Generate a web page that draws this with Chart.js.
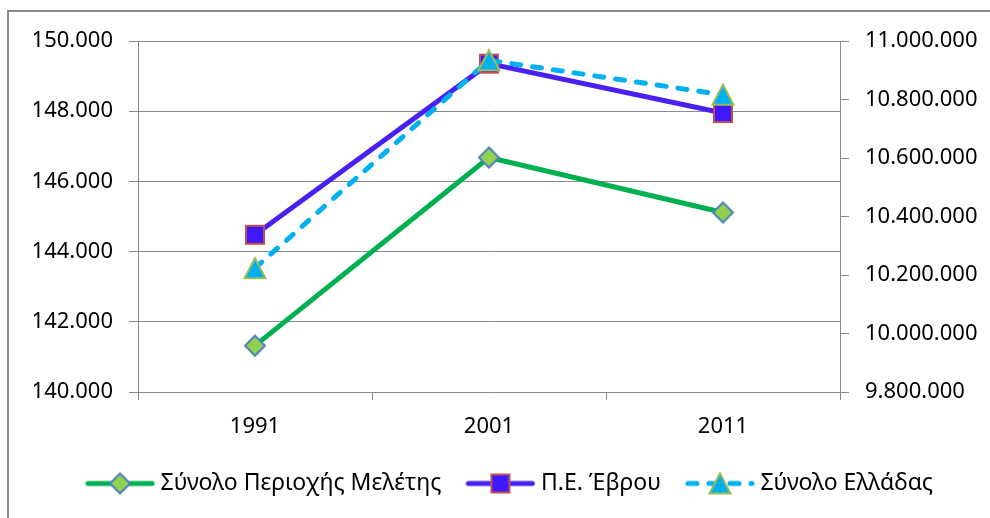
<!DOCTYPE html>
<html lang="el">
<head>
<meta charset="utf-8">
<title>Πληθυσμός 1991 - 2011</title>
<script src="https://cdn.jsdelivr.net/npm/chart.js@4.4.1/dist/chart.umd.min.js"></script>
<style>
  html, body { margin: 0; padding: 0; background: #fff; }
  body { width: 990px; height: 518px; overflow: hidden; position: relative; }
  .plaisio {
    position: absolute; left: 7px; top: 10px; width: 1000px; height: 530px;
    border: 2px solid #8a8a8a; box-sizing: border-box;
  }
  #wrap { position: absolute; left: 0; top: 0; width: 990px; height: 518px; }
</style>
</head>
<body>
<div class="plaisio"></div>
<div id="wrap"><canvas id="chartPlithysmos" width="990" height="518"></canvas></div>
<script>
// Απογραφές
const ETI = ["1991", "2001", "2011"];

// Αριστερός άξονας
const SYNOLO_PERIOXIS = [141320, 146680, 145115];
const PE_EVROU = [144480, 149354, 147947];

// Δεξιός άξονας
const SYNOLO_ELLADAS = [10223392, 10934097, 10816286];

const ONOMATA = ["Σύνολο Περιοχής Μελέτης", "Π.Ε. Έβρου", "Σύνολο Ελλάδας"];

const ARISTEROS_AXONAS = [140000, 150000, 2000]; // min, max, βήμα
const DEXIOS_AXONAS = [9800000, 11000000, 200000];

const GRAMMI = "#8a8a8a";
const FONT = { family: "'Noto Sans', 'DejaVu Sans', sans-serif", size: 22 };
const FONT_LEGEND = { family: "'Noto Sans', 'DejaVu Sans', sans-serif", size: 23 };

function teleies(v) {
  return String(v).replace(/\B(?=(\d{3})+(?!\d))/g, ".");
}

// Δείκτες σαν μικρά canvas
function deiktis(sxima, gemisma, perigramma) {
  const c = document.createElement("canvas");
  c.width = 26;
  c.height = 26;
  const g = c.getContext("2d");
  g.fillStyle = gemisma;
  g.strokeStyle = perigramma;
  g.lineWidth = 2;
  g.beginPath();
  if (sxima === "rect") {
    g.rect(4, 4, 18, 18);
  } else if (sxima === "diamond") {
    g.moveTo(13, 3);
    g.lineTo(23, 13);
    g.lineTo(13, 23);
    g.lineTo(3, 13);
    g.closePath();
  } else {
    g.moveTo(13, 3);
    g.lineTo(23.5, 23);
    g.lineTo(2.5, 23);
    g.closePath();
  }
  g.fill();
  g.stroke();
  return c;
}

// Δείγμα υπομνήματος: γραμμή + δείκτης
function deigma(xroma, dash, marker) {
  const c = document.createElement("canvas");
  c.width = 70;
  c.height = 26;
  const g = c.getContext("2d");
  g.strokeStyle = xroma;
  g.lineWidth = 5;
  g.lineCap = "round";
  g.setLineDash(dash);
  g.beginPath();
  g.moveTo(3, 13);
  g.lineTo(67, 13);
  g.stroke();
  g.drawImage(marker, 22, 0);
  return c;
}

const XROMATA = ["#00b050", "#4a1ff2", "#00b0f0"];
const DASHES = [[], [], [9, 12]];
const DEIKTES = [
  deiktis("diamond", "#92d050", "#4f81bd"),
  deiktis("rect", "#4018ff", "#c0504d"),
  deiktis("triangle", "#00b0f0", "#9bbb59"),
];
const DEIGMATA = DEIKTES.map((m, i) => deigma(XROMATA[i], DASHES[i], m));

document.addEventListener("DOMContentLoaded", () => {
  const ctx = document.getElementById("chartPlithysmos").getContext("2d");

  const timesEtos = [SYNOLO_PERIOXIS, PE_EVROU, SYNOLO_ELLADAS];
  const datasets = timesEtos.map((data, i) => ({
    label: ONOMATA[i],
    data,
    yAxisID: i === 2 ? "y1" : "y",
    borderColor: XROMATA[i],
    borderWidth: 5,
    borderDash: DASHES[i],
    borderCapStyle: "round",
    tension: 0,
    pointStyle: DEIKTES[i],
    pointRadius: 10,
    pointHoverRadius: 10,
    order: 3 - i,
  }));

  new Chart(ctx, {
    type: "line",
    data: { labels: ETI, datasets },
    options: {
      responsive: false,
      animation: false,
      layout: { padding: { top: 41, left: 34, right: 0, bottom: 13 } },
      plugins: {
        tooltip: { enabled: false },
        legend: {
          display: true,
          position: "bottom",
          labels: {
            usePointStyle: true,
            pointStyleWidth: 58,
            padding: 30,
            color: "#000",
            font: FONT_LEGEND,
            generateLabels: (chart) =>
              chart.data.datasets.map((ds, i) => ({
                text: ds.label,
                pointStyle: DEIGMATA[i],
                fillStyle: XROMATA[i],
                strokeStyle: XROMATA[i],
                lineWidth: 0,
                hidden: false,
                datasetIndex: i,
              })),
          },
        },
      },
      scales: {
        x: {
          offset: true,
          grid: {
            offset: true,
            drawOnChartArea: false,
            tickLength: 8,
            color: GRAMMI,
          },
          border: { color: GRAMMI },
          ticks: { color: "#000", font: FONT, padding: 14 },
          afterFit: (s) => { s.height = 50; },
        },
        y: {
          position: "left",
          min: ARISTEROS_AXONAS[0],
          max: ARISTEROS_AXONAS[1],
          ticks: {
            stepSize: ARISTEROS_AXONAS[2],
            color: "#000",
            font: FONT,
            padding: 16,
            callback: (v) => teleies(v),
          },
          grid: { color: GRAMMI, tickLength: 9 },
          border: { color: GRAMMI },
          afterFit: (s) => { s.width = 138 - 34; },
        },
        y1: {
          position: "right",
          min: DEXIOS_AXONAS[0],
          max: DEXIOS_AXONAS[1],
          ticks: {
            stepSize: DEXIOS_AXONAS[2],
            color: "#000",
            font: FONT,
            padding: 16,
            callback: (v) => teleies(v),
          },
          grid: { drawOnChartArea: false, color: GRAMMI, tickLength: 9 },
          border: { color: GRAMMI },
          afterFit: (s) => { s.width = 150; },
        },
      },
    },
  });
});
</script>
</body>
</html>
